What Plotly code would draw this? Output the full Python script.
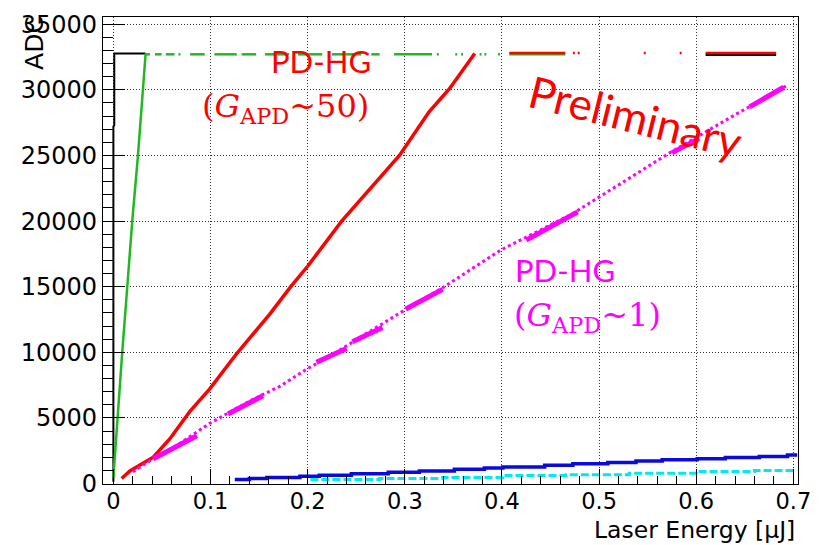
import plotly.graph_objects as go

SAT = 32767  # ADC saturation level

# ---------------- data ----------------
black_x = [0.0, 0.0, 0.0009, 0.0009, 0.033]
black_y = [150, 27200, 27300, 32767, 32767]
black_top_segments = [(0.6097, 0.6823)]

green_x = [0.0, 0.004, 0.0091, 0.0143, 0.0194, 0.0253, 0.0307, 0.0332]
green_y = [500, 5000, 10000, 15000, 20000, 25000, 30000, 32767]
green_top_segments = [(0.033, 0.0376), (0.0428, 0.0496), (0.054, 0.063), (0.067, 0.069),
                      (0.079, 0.094), (0.104, 0.127), (0.132, 0.147), (0.156, 0.181),
                      (0.19, 0.215), (0.225, 0.255), (0.2655, 0.274), (0.289, 0.328),
                      (0.333, 0.335), (0.352, 0.354), (0.358, 0.36), (0.377, 0.379),
                      (0.382, 0.384), (0.396, 0.398), (0.4076, 0.4652)]

red_x = [0.0085, 0.017, 0.041, 0.058, 0.079, 0.099, 0.127, 0.161, 0.183, 0.200,
         0.235, 0.2945, 0.325, 0.346, 0.372]
red_y = [390, 960, 2015, 3400, 5526, 7200, 9910, 12917, 15050, 16560,
         20000, 25000, 28330, 30090, 32767]
red_top_segments = [(0.4076, 0.4652), (0.473, 0.475), (0.478, 0.480), (0.546, 0.548),
                    (0.583, 0.585), (0.6097, 0.6823)]

mag_x = [0.02, 0.041, 0.065, 0.0993, 0.1404, 0.171, 0.2003, 0.219, 0.2517, 0.3014,
         0.339, 0.399, 0.4727, 0.5, 0.5754, 0.64, 0.695]
mag_y = [900, 1895, 2895, 4600, 6300, 7400, 8782, 9535, 11038, 13293,
         14925, 17805, 20564, 21820, 25323, 28100, 30400]
mag_blobs = [(0.041, 1895, 0.086, 3650), (0.118, 5300, 0.154, 6700), (0.209, 9250, 0.240, 10300),
             (0.246, 10800, 0.277, 11900), (0.301, 13300, 0.339, 14800),
             (0.425, 18550, 0.478, 20700), (0.575, 25200, 0.603, 26300), (0.655, 28700, 0.69, 30200)]

blue_x = [0.125, 0.140, 0.158, 0.192, 0.212, 0.245, 0.283, 0.315, 0.351, 0.382, 0.401,
          0.444, 0.473, 0.509, 0.538, 0.565, 0.601, 0.630, 0.665, 0.694, 0.704]
blue_y = [320, 390, 470, 560, 640, 760, 860, 965, 1090, 1190, 1270,
          1390, 1515, 1615, 1715, 1815, 1890, 1990, 2070, 2170, 2170]

cyan_x = [0.2028, 0.274, 0.339, 0.4008, 0.466, 0.531, 0.600, 0.660, 0.702]
cyan_y = [320, 390, 466, 616, 666, 791, 916, 991, 1000]

x_ticks = [0, 0.1, 0.2, 0.3, 0.4, 0.5, 0.6, 0.7]
x_tick_text = ["0", "0.1", "0.2", "0.3", "0.4", "0.5", "0.6", "0.7"]
y_ticks = [0, 5000, 10000, 15000, 20000, 25000, 30000, 35000]
y_tick_text = [str(v) for v in y_ticks]


def segs_flat(segs, yv):
    xs, ys = [], []
    for a, b in segs:
        xs += [a, b, None]
        ys += [yv, yv, None]
    return xs, ys


def blobs_flat(blobs):
    xs, ys = [], []
    for x0, y0, x1, y1 in blobs:
        xs += [x0, x1, None]
        ys += [y0, y1, None]
    return xs, ys


BLACK = "#000000"
GREEN = "#1fba1f"
RED = "#ff0000"
MAG = "#ff00ff"
BLUE = "#0a0ae0"
CYAN = "#00e8f0"

fig = go.Figure()

# black
fig.add_trace(go.Scatter(x=black_x, y=black_y, mode="lines", line=dict(color=BLACK, width=2)))
bx, by = segs_flat(black_top_segments, SAT)
fig.add_trace(go.Scatter(x=bx, y=[v - 90 if v is not None else None for v in by], mode="lines",
                         line=dict(color=BLACK, width=2.5)))
# green
fig.add_trace(go.Scatter(x=green_x, y=green_y, mode="lines", line=dict(color=GREEN, width=2.5)))
gx, gy = segs_flat(green_top_segments, SAT)
fig.add_trace(go.Scatter(x=gx, y=[v - 60 if v is not None else None for v in gy], mode="lines",
                         line=dict(color=GREEN, width=2.5)))
# red
fig.add_trace(go.Scatter(x=red_x, y=red_y, mode="lines", line=dict(color=RED, width=3.5)))
rx, ry = segs_flat(red_top_segments, SAT)
fig.add_trace(go.Scatter(x=rx, y=[v + 40 if v is not None else None for v in ry], mode="lines",
                         line=dict(color=RED, width=2.5)))
# magenta
fig.add_trace(go.Scatter(x=mag_x, y=mag_y, mode="lines",
                         line=dict(color=MAG, width=3, dash="3px,3px")))
mx, my = blobs_flat(mag_blobs)
fig.add_trace(go.Scatter(x=mx, y=my, mode="lines", line=dict(color=MAG, width=5)))
# blue
fig.add_trace(go.Scatter(x=blue_x, y=blue_y, mode="lines", line_shape="hv",
                         line=dict(color=BLUE, width=3.5)))
# cyan
fig.add_trace(go.Scatter(x=cyan_x, y=cyan_y, mode="lines", line_shape="hv",
                         line=dict(color=CYAN, width=3, dash="8px,3px")))

common = dict(showgrid=True, gridcolor="#333333", gridwidth=1, griddash="1px,2px",
              ticks="inside", tickcolor="black", tickwidth=1,
              showline=True, mirror=True, linecolor="black", linewidth=1.2,
              zeroline=False)

fig.update_xaxes(range=[-0.0107, 0.7048], tickmode="array", tickvals=x_ticks, ticktext=x_tick_text,
                 ticklen=15, tickfont=dict(family="DejaVu Sans", size=22.5, color="black"),
                 ticklabelstandoff=-3,
                 minor=dict(dtick=0.02, tick0=0, ticks="inside", ticklen=8,
                            tickcolor="black", showgrid=False), **common)
fig.update_yaxes(range=[-30, 35550], tickmode="array", tickvals=y_ticks, ticktext=y_tick_text,
                 ticklen=22, tickfont=dict(family="DejaVu Sans", size=24, color="black"),
                 minor=dict(dtick=1000, tick0=0, ticks="inside", ticklen=10,
                            tickcolor="black", showgrid=False), **common)

ann = [
    dict(text="Laser Energy [µJ]", x=0.999, y=-0.099, xanchor="right", yanchor="middle",
         font=dict(family="DejaVu Sans", size=23.5, color="black")),
    dict(text="ADC", x=-0.099, y=0.945, xanchor="center", yanchor="middle", textangle=-90,
         font=dict(family="DejaVu Sans", size=25, color="black")),
    dict(text="PD-HG", x=0.3132, y=0.9049, xanchor="center", yanchor="middle",
         font=dict(family="Lato", size=31, color=RED)),
    dict(text="(<i>G</i><sub>APD</sub>~50)", x=0.263, y=0.805, xanchor="center", yanchor="middle",
         font=dict(family="DejaVu Serif", size=32, color=RED)),
    dict(text="Preliminary", x=0.7658, y=0.789, xanchor="center", yanchor="middle", textangle=14,
         font=dict(family="Lato", size=44, color=RED)),
    dict(text="PD-HG", x=0.665, y=0.4588, xanchor="center", yanchor="middle",
         font=dict(family="Lato", size=31, color=MAG)),
    dict(text="(<i>G</i><sub>APD</sub>~1)", x=0.697, y=0.357, xanchor="center", yanchor="middle",
         font=dict(family="DejaVu Serif", size=32, color=MAG)),
]
for a in ann:
    a.update(xref="paper", yref="paper", showarrow=False)

fig.update_layout(width=822, height=545, margin=dict(l=103, r=23, t=11, b=61),
                  plot_bgcolor="white", paper_bgcolor="white", showlegend=False,
                  annotations=ann)

fig.write_html("out.html")
